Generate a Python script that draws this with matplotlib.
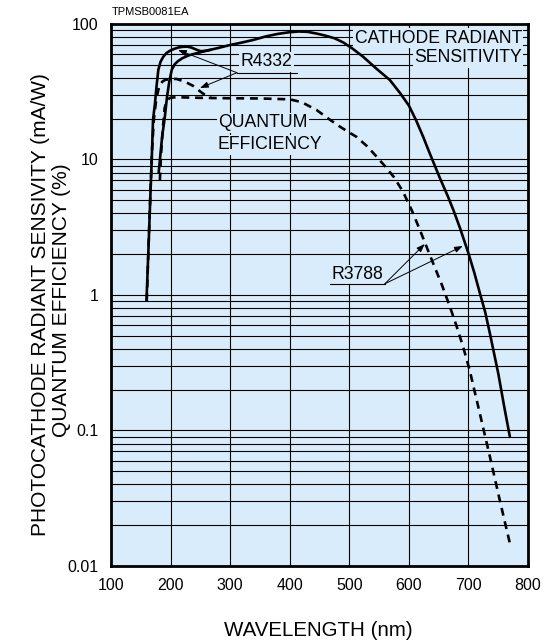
import numpy as np
import matplotlib
matplotlib.use("Agg")
import matplotlib.pyplot as plt
from matplotlib.ticker import FixedLocator, NullFormatter, LogLocator

plt.rcParams['font.family'] = ['Liberation Sans', 'DejaVu Sans']

# ---- data ----
r4332_cathode_wl = [159.6, 162.8, 165.8, 168.9, 170.5, 173.8, 176.5, 179.4, 183, 187.8, 193, 199, 206,
                    213, 220, 228, 235, 242, 250, 258, 266]
r4332_cathode_val = [0.92, 2.15, 5.0, 11.8, 19.6, 26, 35, 45.8, 52.5, 57.4, 61, 63.5, 65.5,
                     67, 67.8, 68, 67, 65, 63, 63.3, 64.3]

r3788_cathode_wl = [180, 183, 186, 190, 194, 198, 202, 207, 212, 220, 232, 245, 260, 280, 300, 320, 340,
                    360, 380, 400, 415, 430, 445, 460, 475, 490, 505, 523, 545, 568, 585, 600, 612,
                    624, 635, 652, 665, 675, 686, 700, 710, 720, 728, 736, 743, 750, 760, 769.5]
r3788_cathode_val = [8, 11, 15, 20, 29, 38, 46, 50.5, 53, 56, 59, 61, 63.5, 66.5, 70, 73, 76.5,
                     81, 84.5, 87, 88, 87.5, 85, 82, 78.5, 73, 66, 57.4, 47, 38.6, 31, 25, 19.5,
                     14.7, 11.1, 7.3, 5.4, 4.2, 3.1, 2.03, 1.45, 1.0, 0.75, 0.52, 0.37, 0.264, 0.15, 0.09]

r4332_qe_wl = [160, 163, 166, 169, 172, 176, 181, 186, 190.6, 200, 210, 224, 238, 248, 257.7, 268]
r4332_qe_val = [0.9, 2.3, 5.5, 12, 20, 28, 35, 37.5, 38.6, 39.3, 39.3, 37.5, 34.9, 32.2, 29.9, 28.5]

r3788_qe_wl = [182, 184, 187, 190, 194, 200, 210, 250, 300, 350, 400, 420, 445, 465, 484, 500, 512,
               530, 545.8, 560, 575, 590, 605, 618.5, 630, 640.8, 655, 668.8, 680, 691, 702,
               719, 736, 753, 769.5]
r3788_qe_val = [7, 11, 17, 24, 27.5, 28.6, 28.8, 28.5, 28.3, 28.2, 27.8, 26.5, 23.2, 20, 17.5, 15.8, 14.7,
                12.5, 10.5, 8.9, 7.4, 5.8, 4.2, 3.02, 2.25, 1.71, 1.2, 0.82, 0.59, 0.415, 0.279,
                0.134, 0.064, 0.030, 0.0147]

x_ticks = [100, 200, 300, 400, 500, 600, 700, 800]
y_ticks = [0.01, 0.1, 1, 10, 100]
y_tick_labels = ["0.01", "0.1", "1", "10", "100"]

BG = "#d9ecfb"

fig = plt.figure(figsize=(5.59, 6.43), dpi=100)
ax = fig.add_axes([0.1986, 0.1198, 0.7460, 0.8429])
ax.set_facecolor(BG)
ax.set_yscale('log')
ax.set_xlim(100, 800)
ax.set_ylim(0.01, 100)

ax.xaxis.set_major_locator(FixedLocator(x_ticks))
ax.set_xticklabels([str(t) for t in x_ticks])
ax.yaxis.set_major_locator(FixedLocator(y_ticks))
ax.set_yticklabels(y_tick_labels)
ax.yaxis.set_minor_locator(LogLocator(base=10, subs=np.arange(2, 10)))
ax.yaxis.set_minor_formatter(NullFormatter())
ax.tick_params(axis='both', which='both', length=0, labelsize=11.5, colors='black')
ax.tick_params(axis='x', pad=9)
ax.tick_params(axis='y', pad=9)

ax.grid(True, which='major', axis='x', color='black', lw=0.8)
ax.grid(True, which='both', axis='y', color='black', lw=0.8)
ax.set_axisbelow(True)
for s in ax.spines.values():
    s.set_linewidth(2.0)

lw = 1.9
ax.plot(r4332_cathode_wl, r4332_cathode_val, color='black', lw=lw, solid_joinstyle='round', zorder=3)
ax.plot(r3788_cathode_wl, r3788_cathode_val, color='black', lw=lw, solid_joinstyle='round', zorder=3)
ax.plot(r4332_qe_wl, r4332_qe_val, color='black', lw=lw, dashes=(3.0, 2.2), zorder=3)
ax.plot(r3788_qe_wl, r3788_qe_val, color='black', lw=lw, dashes=(3.0, 2.2), zorder=3)

bbox = dict(facecolor=BG, edgecolor='none', pad=1.0)
fs_ann = 12.7

ax.text(790, 78.8, "CATHODE RADIANT", ha='right', va='center', fontsize=fs_ann, bbox=bbox, zorder=2)
ax.text(790, 56.1, "SENSITIVITY", ha='right', va='center', fontsize=fs_ann, bbox=bbox, zorder=2)
ax.text(279.5, 18.6, "QUANTUM", ha='left', va='center', fontsize=fs_ann, bbox=bbox, zorder=2)
ax.text(279.5, 12.8, "EFFICIENCY", ha='left', va='center', fontsize=fs_ann, bbox=bbox, zorder=2)

# R4332 label
ax.text(361, 52.5, "R4332", ha='center', va='center', fontsize=fs_ann, bbox=bbox, zorder=2)
ax.plot([311.4, 412], [43.7, 43.7], color='black', lw=0.8, zorder=4)
arrow = dict(arrowstyle='-|>,head_length=0.5,head_width=0.18', color='black', lw=0.7, shrinkA=0, shrinkB=0)
ax.annotate("", xy=(212.4, 64.3), xytext=(311.4, 43.7), arrowprops=arrow, zorder=4)
ax.annotate("", xy=(249.3, 33.7), xytext=(311.4, 43.7), arrowprops=arrow, zorder=4)

# R3788 label
ax.text(512.8, 1.41, "R3788", ha='center', va='center', fontsize=fs_ann, bbox=bbox, zorder=2)
ax.plot([467.4, 559.7], [1.21, 1.21], color='black', lw=0.8, zorder=4)
ax.annotate("", xy=(626.8, 2.38), xytext=(559.7, 1.21), arrowprops=arrow, zorder=4)
ax.annotate("", xy=(690.6, 2.30), xytext=(559.7, 1.21), arrowprops=arrow, zorder=4)

fig.text(112 / 559, 1 - 12 / 643, "TPMSB0081EA", fontsize=8, ha='left', va='center')
fig.text(318 / 559, 1 - 630 / 643, "WAVELENGTH (nm)", fontsize=14.8, ha='center', va='center')
fig.text(41 / 559, 1 - 305 / 643, "PHOTOCATHODE RADIANT SENSIVITY (mA/W)", fontsize=15,
         rotation=90, ha='center', va='center')
fig.text(62 / 559, 1 - 300 / 643, "QUANTUM EFFICIENCY (%)", fontsize=15,
         rotation=90, ha='center', va='center')

fig.savefig("out.png", dpi=100)
